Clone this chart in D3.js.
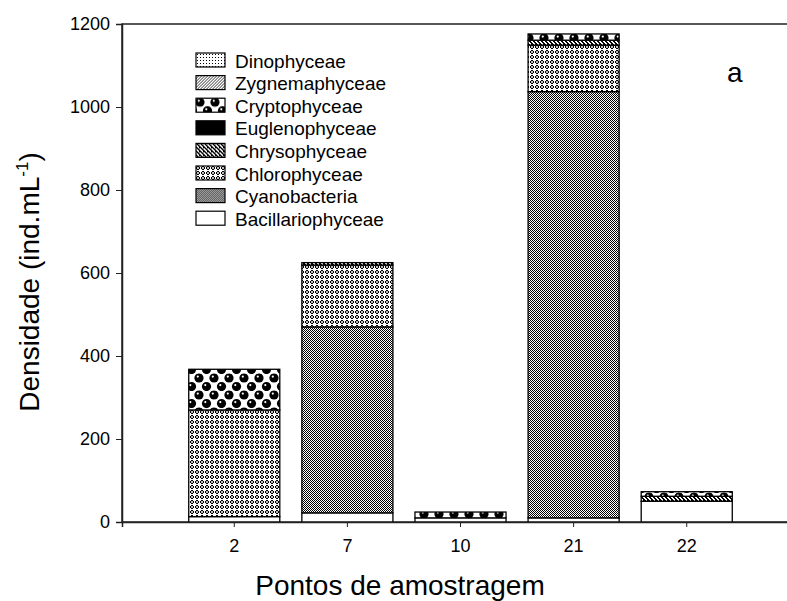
<!DOCTYPE html>
<html>
<head>
<meta charset="utf-8">
<script src="https://cdn.jsdelivr.net/npm/d3@7"></script>
<style>
  body { margin: 0; background: #fff; }
  svg { font-family: "Liberation Sans", Arial, sans-serif; }
</style>
</head>
<body>
<svg width="787" height="601"></svg>
<script>
// sampling points (x categories)
var pontos = ["2", "7", "10", "21", "22"];

// densities per class, ind.mL-1
var bacillariophyceae = [13, 22, 10, 10, 50];
var cyanobacteria     = [0, 448, 0, 1027, 0];
var chlorophyceae     = [257, 149, 0, 112, 0];
var chrysophyceae     = [0, 6, 0, 12, 12];
var euglenophyceae    = [0, 0, 0, 0, 0];
var cryptophyceae     = [98, 0, 14, 15, 11];
var zygnemaphyceae    = [0, 0, 0, 0, 0];
var dinophyceae       = [0, 0, 0, 0, 0];

var yTicks = [0, 200, 400, 600, 800, 1000, 1200];

// stacking order, bottom to top
var classes = ["Bacillariophyceae", "Cyanobacteria", "Chlorophyceae", "Chrysophyceae",
	"Euglenophyceae", "Cryptophyceae", "Zygnemaphyceae", "Dinophyceae"];
var seriesValues = [bacillariophyceae, cyanobacteria, chlorophyceae, chrysophyceae,
	euglenophyceae, cryptophyceae, zygnemaphyceae, dinophyceae];

var table = pontos.map(function (p, i) {
	var row = { ponto: p };
	classes.forEach(function (c, k) { row[c] = seriesValues[k][i]; });
	return row;
});

var svg = d3.select('svg');
var plotLeft = 122, plotTop = 24, plotBottom = 522, plotRight = 799;

var x = d3.scaleBand().domain(pontos).range([plotLeft, plotRight])
	.paddingInner(0.195).paddingOuter(0.59);
var y = d3.scaleLinear().domain([0, 1200]).range([plotBottom, plotTop]);

// fill patterns
var defs = svg.append('defs');
function pattern(id, w, h) {
	var p = defs.append('pattern').attr('id', id).attr('patternUnits', 'userSpaceOnUse')
		.attr('width', w).attr('height', h);
	p.append('rect').attr('width', w).attr('height', h).attr('fill', '#fff');
	return p;
}

var pDino = pattern('p-dino', 3, 3);
pDino.append('rect').attr('x', 1).attr('y', 1).attr('width', 1).attr('height', 1).attr('fill', '#000');

var pZyg = pattern('p-zyg', 3, 3);
pZyg.append('path').attr('d', 'M0,3 L3,0 M-1,1 L1,-1 M2,4 L4,2').attr('stroke', '#000').attr('stroke-width', 0.8);

var pCrypt = pattern('p-crypt', 15, 17);
[[4, 4], [11.5, 12.5], [-3.5, 12.5], [19, 4]].forEach(function (c) {
	pCrypt.append('circle').attr('cx', c[0]).attr('cy', c[1]).attr('r', 4.6).attr('fill', '#000');
	pCrypt.append('circle').attr('cx', c[0] - 1.2).attr('cy', c[1] - 1.4).attr('r', 1.1).attr('fill', '#fff');
});
[[4, 21], [-3.5, -4.5], [11.5, -4.5], [19, 21]].forEach(function (c) {
	pCrypt.append('circle').attr('cx', c[0]).attr('cy', c[1]).attr('r', 4.6).attr('fill', '#000');
});

var pEug = pattern('p-eug', 4, 4);
pEug.append('rect').attr('width', 4).attr('height', 4).attr('fill', '#000');

var pChrys = pattern('p-chrys', 4, 4);
pChrys.append('path').attr('d', 'M0,0h2v1h-2z M1,1h2v1h-2z M2,2h2v1h-2z M0,3h1v1h-1z M3,3h1v1h-1z M3,0h1v1h-1z')
	.attr('fill', '#000');

// small rounded rings, pixel drawn
var pChlor = pattern('p-chlor', 5, 5);
pChlor.append('path')
	.attr('d', 'M1,0h2v1h-2z M0,1h1v2h-1z M3,1h1v2h-1z M1,3h2v1h-2z')
	.attr('fill', '#000');
pChlor.append('rect').attr('x', 1).attr('y', 1).attr('width', 2).attr('height', 2).attr('fill', '#bbb');

var pCyano = pattern('p-cyano', 2, 2);
pCyano.append('rect').attr('x', 0).attr('y', 0).attr('width', 1).attr('height', 1).attr('fill', '#000');
pCyano.append('rect').attr('x', 1).attr('y', 1).attr('width', 1).attr('height', 1).attr('fill', '#000');

var fills = {
	"Bacillariophyceae": "#fff",
	"Cyanobacteria": "url(#p-cyano)",
	"Chlorophyceae": "url(#p-chlor)",
	"Chrysophyceae": "url(#p-chrys)",
	"Euglenophyceae": "url(#p-eug)",
	"Cryptophyceae": "url(#p-crypt)",
	"Zygnemaphyceae": "url(#p-zyg)",
	"Dinophyceae": "url(#p-dino)"
};

// frame (top and right edges, right one runs off the page)
svg.append('rect')
	.attr('x', plotLeft).attr('y', plotTop)
	.attr('width', plotRight - plotLeft).attr('height', plotBottom - plotTop)
	.attr('fill', 'none').attr('stroke', '#222').attr('stroke-width', 1.5);

// stacked bars
var stacked = d3.stack().keys(classes)(table);
svg.append('g').selectAll('g.layer')
	.data(stacked)
	.enter()
	.append('g')
	.attr('class', 'layer')
	.attr('fill', function (d) { return fills[d.key]; })
	.selectAll('rect')
	.data(function (d) { return d.filter(function (s) { return s[1] - s[0] > 0; }); })
	.enter()
	.append('rect')
	.attr('x', function (d) { return x(d.data.ponto); })
	.attr('width', x.bandwidth())
	.attr('y', function (d) { return y(d[1]); })
	.attr('height', function (d) { return y(d[0]) - y(d[1]); })
	.attr('stroke', '#000')
	.attr('stroke-width', 1.3);

// axes
var yAxis = d3.axisLeft(y).tickValues(yTicks).tickFormat(d3.format('d')).tickSize(6).tickPadding(6);
var gy = svg.append('g').attr('transform', 'translate(' + plotLeft + ',0)').call(yAxis);
var xAxis = d3.axisBottom(x).tickSize(5).tickPadding(12);
var gx = svg.append('g').attr('transform', 'translate(0,' + plotBottom + ')').call(xAxis);

[gx, gy].forEach(function (g) {
	g.select('.domain').attr('stroke', '#222').attr('stroke-width', 1.5);
	g.selectAll('.tick line').attr('stroke', '#222');
	g.selectAll('text').attr('fill', '#000').style('font-size', '18px')
		.style('font-family', '"Liberation Sans", Arial, sans-serif');
});

// axis titles
svg.append('text')
	.attr('x', 400).attr('y', 595)
	.attr('text-anchor', 'middle')
	.style('font-size', '28px')
	.text('Pontos de amostragem');

var yt = svg.append('text')
	.attr('transform', 'translate(39,' + 282 + ') rotate(-90)')
	.attr('text-anchor', 'middle')
	.style('font-size', '28px');
yt.append('tspan').text('Densidade (ind.mL');
yt.append('tspan').attr('dy', -11).style('font-size', '17px').text('-1');
yt.append('tspan').attr('dy', 11).text(')');

// panel letter
svg.append('text')
	.attr('x', 727).attr('y', 82)
	.style('font-size', '28px')
	.text('a');

// legend, top to bottom
var legendOrder = classes.slice().reverse();
var legend = svg.append('g').selectAll('g.item')
	.data(legendOrder)
	.enter()
	.append('g')
	.attr('class', 'item')
	.attr('transform', function (d, i) { return 'translate(196,' + (53 + i * 22.6) + ')'; });

legend.append('rect')
	.attr('width', 29).attr('height', 14)
	.attr('fill', function (d) { return fills[d]; })
	.attr('stroke', '#000').attr('stroke-width', 1.2);

legend.append('text')
	.attr('x', 39).attr('y', 14.5)
	.style('font-size', '19px')
	.text(function (d) { return d; });
</script>
</body>
</html>
